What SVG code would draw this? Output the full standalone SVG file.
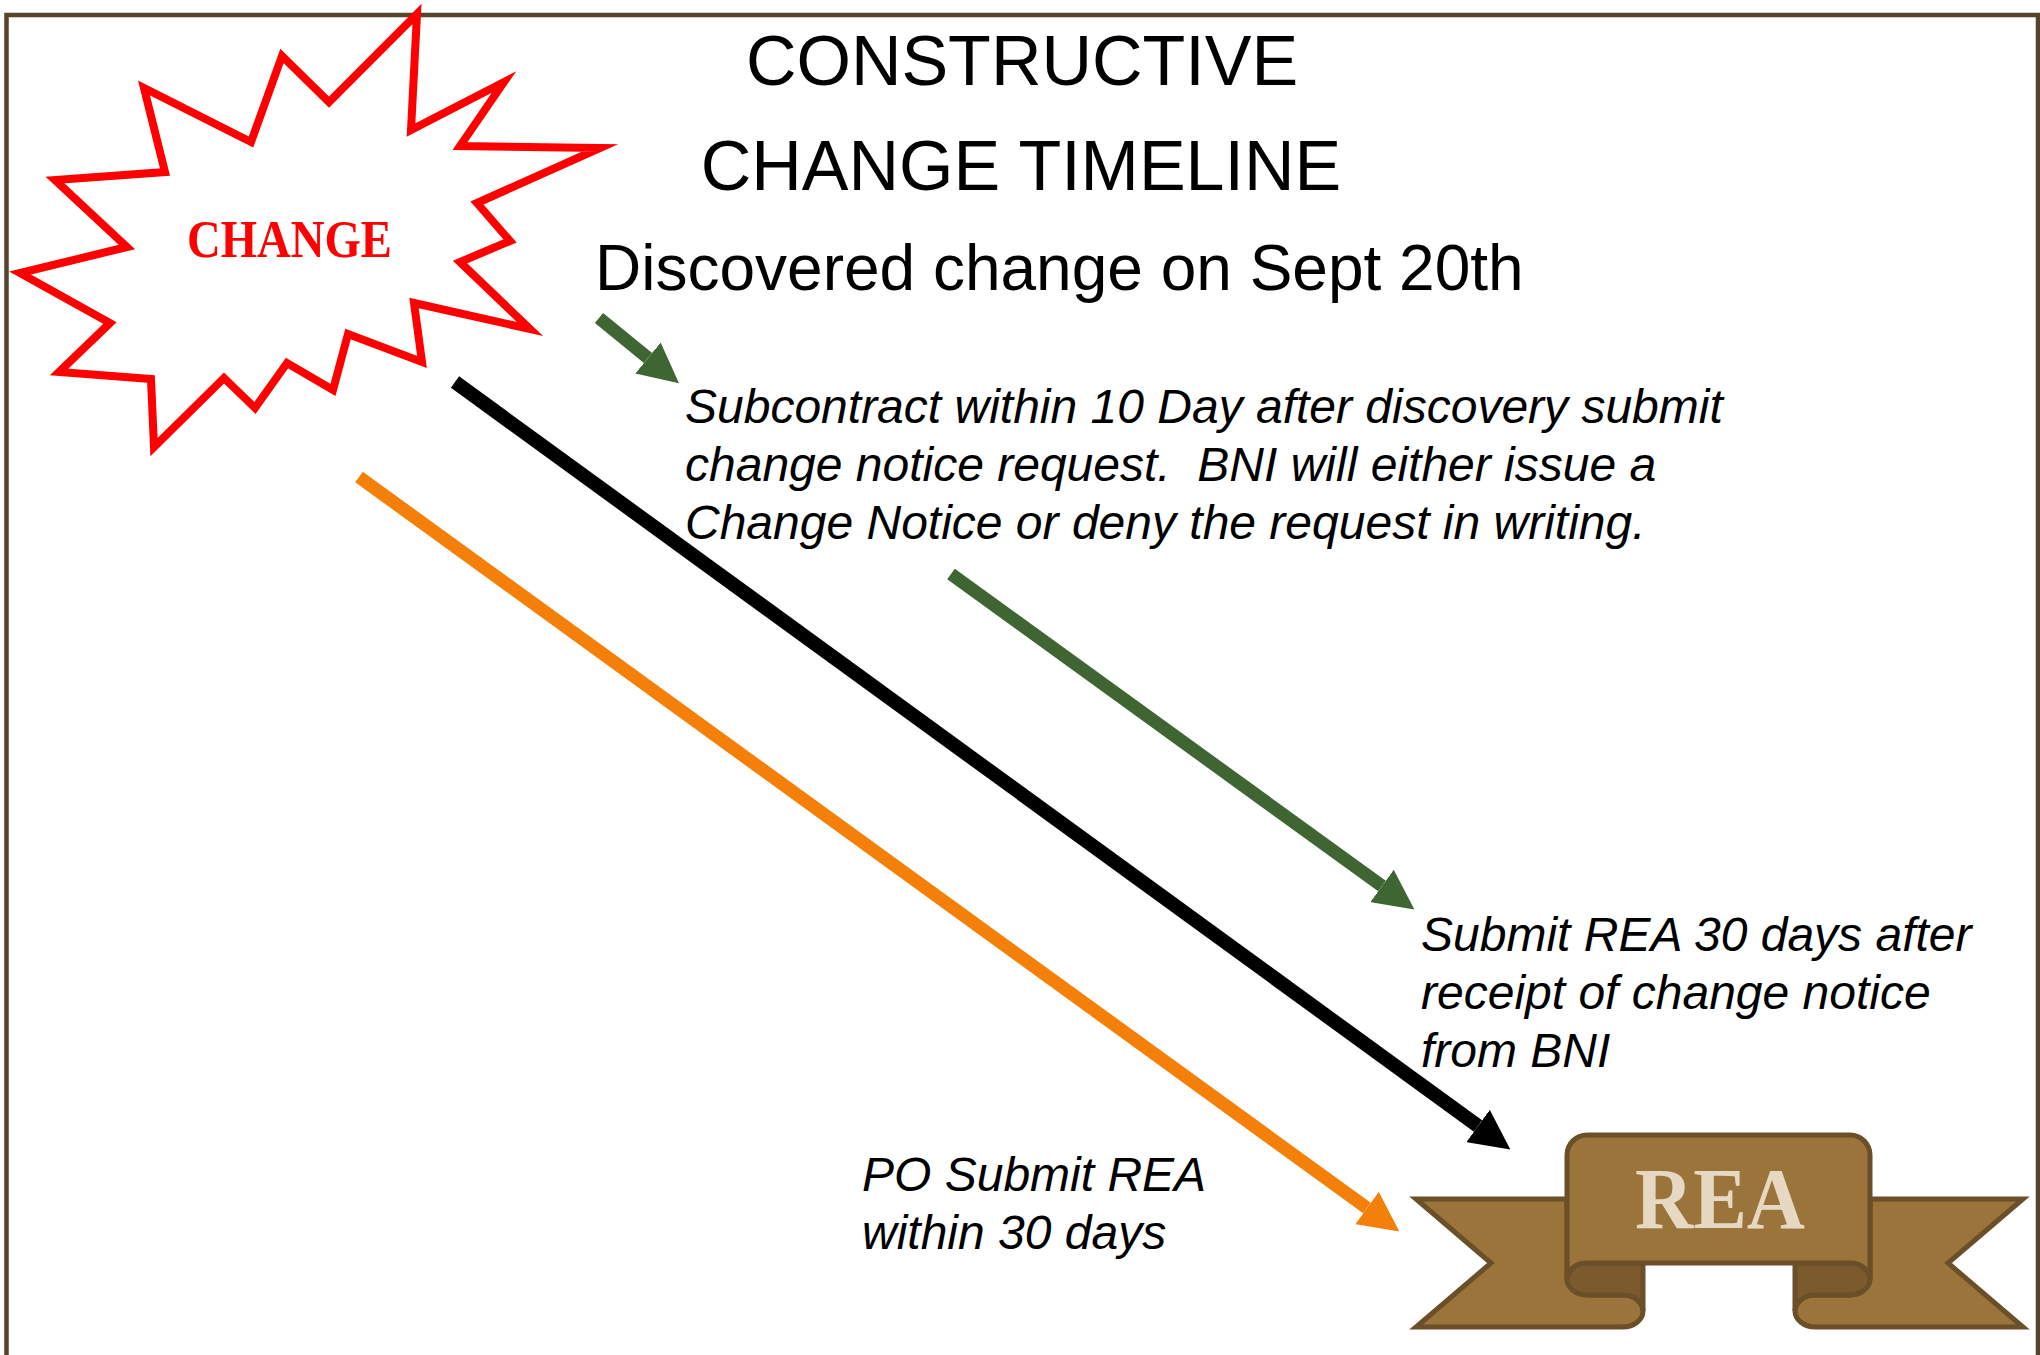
<svg xmlns="http://www.w3.org/2000/svg" width="2040" height="1355" viewBox="0 0 2040 1355">
<style>
.frame{fill:#fff;stroke:#55432a;stroke-width:4.5}
.t{font-family:"Liberation Sans",Arial,sans-serif;fill:#000;white-space:pre}
.title{font-size:70px}
.sub{font-size:64px}
.note{font-size:48px;font-style:italic}
.deco{font-family:"Liberation Serif","Times New Roman",serif;font-weight:bold}
.b{stroke:#6b4f28;stroke-width:5;stroke-linejoin:miter;stroke-miterlimit:20}
.ln{fill:none;stroke-linecap:butt}
</style>
<defs>
<marker id="hg" markerUnits="userSpaceOnUse" markerWidth="40" markerHeight="40" refX="0" refY="20" orient="auto"><path d="M0,0L40,20L0,40Z" fill="#3f6632"/></marker>
<marker id="hk" markerUnits="userSpaceOnUse" markerWidth="40" markerHeight="40" refX="0" refY="20" orient="auto"><path d="M0,0L40,20L0,40Z" fill="#000"/></marker>
<marker id="ho" markerUnits="userSpaceOnUse" markerWidth="40" markerHeight="40" refX="0" refY="20" orient="auto"><path d="M0,0L40,20L0,40Z" fill="#f4800a"/></marker>
</defs>
<rect class="frame" x="6.5" y="15" width="2031.5" height="1400"/>
<g id="title">
<text class="t title" x="1022" y="85" text-anchor="middle">CONSTRUCTIVE</text>
<text class="t title" x="1021" y="190" text-anchor="middle">CHANGE TIMELINE</text>
<text class="t sub" x="595" y="290">Discovered change on Sept 20th</text>
</g>
<g id="change">
<polygon points="417,14 411,130 504,82 460,146 600,148 477,203 510,241 460,262 530,329 414,303 422,362 348,334 333,390 287,363 255,408 224,378 154,447 151,379 59,372 110,323 20,273 127,247 55,180 165,172 144,88 251,142 282,56 329,102" fill="#fff" stroke="#f00" stroke-width="8" stroke-miterlimit="20"/>
<text class="deco" x="187" y="257" font-size="53" fill="#f00" textLength="205" lengthAdjust="spacingAndGlyphs">CHANGE</text>
</g>
<g id="connectors">
<line class="ln" x1="599" y1="318" x2="648" y2="358" stroke="#3f6632" stroke-width="13" marker-end="url(#hg)"/>
<line class="ln" x1="951" y1="574" x2="1382" y2="886" stroke="#3f6632" stroke-width="13" marker-end="url(#hg)"/>
<line class="ln" x1="455" y1="382" x2="1478" y2="1126" stroke="#000" stroke-width="14" marker-end="url(#hk)"/>
<line class="ln" x1="359" y1="477" x2="1367" y2="1208" stroke="#f4800a" stroke-width="13" marker-end="url(#ho)"/>
</g>
<g id="note-subcontract">
<text class="t note" x="685" y="423">Subcontract within 10 Day after discovery submit</text>
<text class="t note" x="685" y="481">change notice request.  BNI will either issue a</text>
<text class="t note" x="685" y="539">Change Notice or deny the request in writing.</text>
</g>
<g id="note-submit">
<text class="t note" x="1421" y="951">Submit REA 30 days after</text>
<text class="t note" x="1421" y="1009">receipt of change notice</text>
<text class="t note" x="1421" y="1067">from BNI</text>
</g>
<g id="note-po">
<text class="t note" x="862" y="1191">PO Submit REA</text>
<text class="t note" x="862" y="1249">within 30 days</text>
</g>
<g id="rea">
<path class="b" fill="#9b743b" d="M1416,1199H1567V1279L1587,1295H1623A20,16 0 0 1 1643,1311A20,16 0 0 1 1623,1327H1416L1491,1263Z"/>
<path class="b" fill="#9b743b" d="M2023,1199H1870V1279L1850,1295H1815A20,16 0 0 0 1795,1311A20,16 0 0 0 1815,1327H2023L1948,1263Z"/>
<path class="b" fill="#7b5b2d" d="M1587,1263H1643V1311A20,16 0 0 0 1623,1295H1587A20,16 0 0 1 1587,1263Z"/>
<path class="b" fill="#7b5b2d" d="M1850,1263H1795V1311A20,16 0 0 1 1815,1295H1850A20,16 0 0 0 1850,1263Z"/>
<path class="b" fill="#9b743b" d="M1567,1279V1155A20,20 0 0 1 1587,1135H1850A20,20 0 0 1 1870,1155V1279A20,16 0 0 0 1850,1263H1587A20,16 0 0 0 1567,1279Z"/>
<text class="deco" x="1635" y="1228" font-size="86" fill="#e6d8c3" textLength="170" lengthAdjust="spacingAndGlyphs">REA</text>
</g>
</svg>
